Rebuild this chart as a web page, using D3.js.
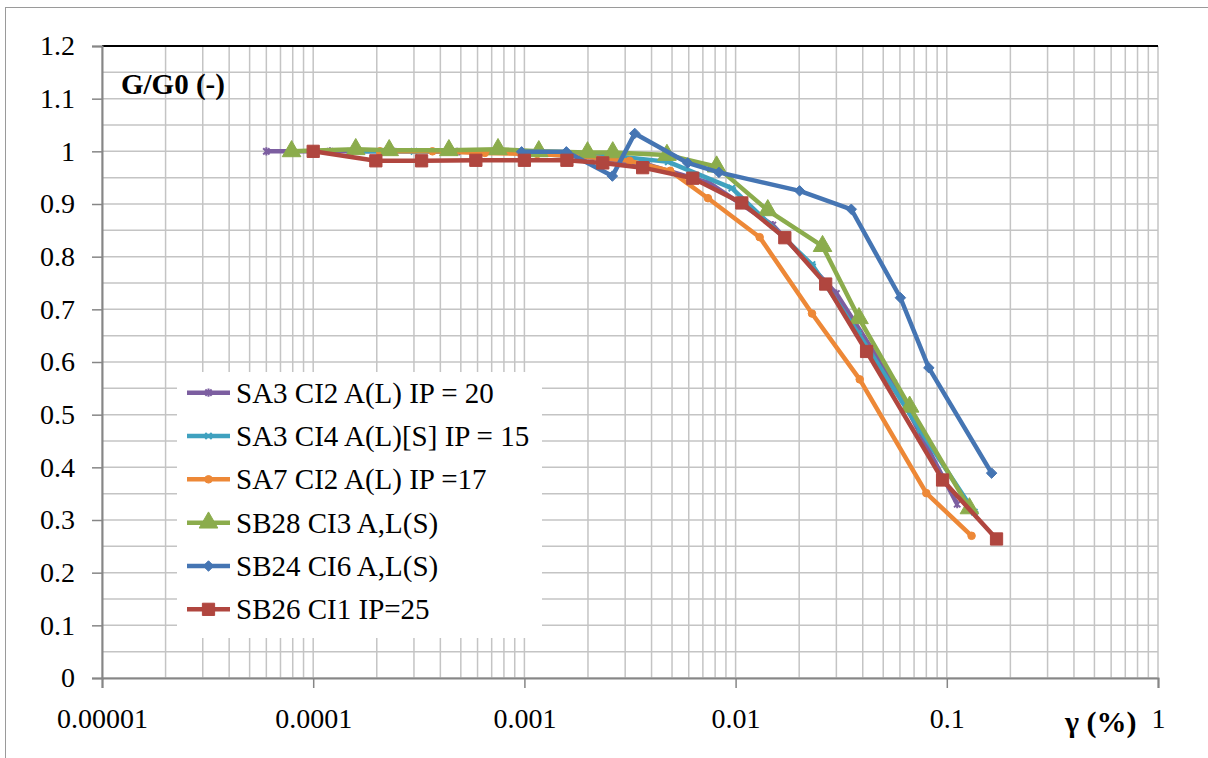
<!DOCTYPE html>
<html>
<head>
<meta charset="utf-8">
<script src="https://cdn.jsdelivr.net/npm/d3@7"></script>
<style>
  body { margin: 0; background: #fff; }
  svg text { font-family: "Liberation Serif", Tinos, "Times New Roman", "DejaVu Serif", serif; fill: #000; }
</style>
</head>
<body>
<div id="chart"></div>
<script>
// series names, in legend order
const seriesNames = [
    'SA3 CI2 A(L) IP = 20',
    'SA3 CI4 A(L)[S] IP = 15',
    'SA7 CI2 A(L) IP =17',
    'SB28 CI3 A,L(S)',
    'SB24 CI6 A,L(S)',
    'SB26 CI1 IP=25'
];

// shear strain (%) and G/G0 for each sample
const sa3ci2Strain = [0.00006, 0.00012, 0.00024, 0.00048, 0.00096, 0.0019, 0.0038, 0.0075, 0.015, 0.03, 0.056, 0.112];
const sa3ci2Ratio  = [1.0, 1.0, 1.0, 0.999, 0.997, 0.99, 0.975, 0.94, 0.86, 0.73, 0.56, 0.33];

const sa3ci4Strain = [0.00015, 0.0003, 0.0006, 0.0012, 0.0024, 0.0048, 0.0096, 0.023, 0.038, 0.075, 0.135];
const sa3ci4Ratio  = [1.0, 1.0, 0.999, 0.998, 0.993, 0.98, 0.93, 0.785, 0.655, 0.47, 0.315];

const sa7ci2Strain = [0.000207, 0.000367, 0.00065, 0.00115, 0.0019, 0.00315, 0.0049, 0.0074, 0.013, 0.023, 0.0387, 0.08, 0.131];
const sa7ci2Ratio  = [1.0, 1.0, 0.997, 0.995, 0.99, 0.982, 0.963, 0.911, 0.837, 0.692, 0.567, 0.351, 0.27];

const sb28ci3Strain = [0.000079, 0.000159, 0.000229, 0.000439, 0.00075, 0.00117, 0.00199, 0.00262, 0.00473, 0.00813, 0.0142, 0.0258, 0.0384, 0.0667, 0.128];
const sb28ci3Ratio  = [1.0, 1.004, 1.002, 1.002, 1.004, 1.0, 0.998, 0.998, 0.993, 0.971, 0.888, 0.82, 0.683, 0.515, 0.322];

const sb24ci6Strain = [0.00097, 0.00158, 0.00261, 0.00333, 0.00593, 0.00834, 0.0201, 0.0353, 0.0603, 0.0822, 0.163];
const sb24ci6Ratio  = [0.999, 0.999, 0.953, 1.034, 0.978, 0.96, 0.925, 0.89, 0.722, 0.589, 0.389];

const sb26ci1Strain = [0.0001, 0.000198, 0.000326, 0.000589, 0.001, 0.00159, 0.00235, 0.00363, 0.00627, 0.0107, 0.0171, 0.0267, 0.0417, 0.0955, 0.172];
const sb26ci1Ratio  = [1.0, 0.982, 0.982, 0.983, 0.983, 0.983, 0.978, 0.969, 0.949, 0.902, 0.836, 0.748, 0.62, 0.376, 0.264];

// axis ticks
const xTicks = [0.00001, 0.0001, 0.001, 0.01, 0.1, 1];
const xTickLabels = ['0.00001', '0.0001', '0.001', '0.01', '0.1', '1'];
const yTicks = [0, 0.1, 0.2, 0.3, 0.4, 0.5, 0.6, 0.7, 0.8, 0.9, 1, 1.1, 1.2];

const w = 1208;
const h = 758;
const plotLeft = 102, plotRight = 1158, plotTop = 46, plotBottom = 678;
const serif = '"Liberation Serif", Tinos, "Times New Roman", "DejaVu Serif", serif';

const svg = d3.select('#chart')
    .append('svg')
    .attr('width', w)
    .attr('height', h);

// chart frame
svg.append('rect')
    .attr('x', 5.5).attr('y', 7.5)
    .attr('width', w).attr('height', h)
    .attr('fill', 'none')
    .attr('stroke', '#9a9a9a');

const xScale = d3.scaleLog().domain([1e-5, 1]).range([plotLeft, plotRight]);
const yScale = d3.scaleLinear().domain([0, 1.2]).range([plotBottom, plotTop]);

// gridlines: log minors on x, every 0.05 on y
const xGrid = [];
for (let e = -5; e < 0; e++) {
    for (let m = 1; m < 10; m++) xGrid.push(m * Math.pow(10, e));
}
xGrid.push(1);
const yGrid = d3.range(0, 25).map(i => i * 0.05);

const grid = svg.append('g').attr('stroke', '#c4c4c4').attr('stroke-width', 1.5);
grid.selectAll('.vg').data(xGrid).enter().append('line')
    .attr('x1', d => xScale(d)).attr('x2', d => xScale(d))
    .attr('y1', plotTop).attr('y2', plotBottom);
grid.selectAll('.hg').data(yGrid).enter().append('line')
    .attr('x1', plotLeft).attr('x2', plotRight)
    .attr('y1', d => yScale(d)).attr('y2', d => yScale(d));

// top border of the plot area
svg.append('line')
    .attr('x1', plotLeft).attr('x2', plotRight)
    .attr('y1', plotTop).attr('y2', plotTop)
    .attr('stroke', '#000').attr('stroke-width', 2);

const yAxis = d3.axisLeft(yScale)
    .tickValues(yTicks)
    .tickSize(10)
    .tickPadding(17)
    .tickFormat(d => String(+d.toFixed(1)));

const xAxis = d3.axisBottom(xScale)
    .tickValues(xTicks)
    .tickSize(10)
    .tickPadding(20)
    .tickFormat((d, i) => xTickLabels[i]);

const gy = svg.append('g')
    .attr('transform', 'translate(' + plotLeft + ', 0)')
    .call(yAxis);
const gx = svg.append('g')
    .attr('transform', 'translate(0, ' + plotBottom + ')')
    .call(xAxis);

[gx, gy].forEach(g => {
    g.attr('font-family', serif);
    g.select('.domain').attr('stroke', '#868686').attr('stroke-width', 2);
    g.selectAll('.tick line').attr('stroke', '#868686').attr('stroke-width', 1.5);
    g.selectAll('.tick text')
        .attr('font-size', 28)
        .attr('fill', '#000');
});

// markers
const xMark = {
    draw(ctx, size) {
        const r = Math.sqrt(size) / 2;
        ctx.moveTo(-r, -r); ctx.lineTo(r, r);
        ctx.moveTo(-r, r); ctx.lineTo(r, -r);
        ctx.moveTo(-r * 1.3, 0); ctx.lineTo(r * 1.3, 0);
    }
};
const starMark = {
    draw(ctx, size) {
        const r = Math.sqrt(size) / 2;
        ctx.moveTo(-r, -r); ctx.lineTo(r, r);
        ctx.moveTo(-r, r); ctx.lineTo(r, -r);
        ctx.moveTo(0, -r * 1.3); ctx.lineTo(0, r * 1.3);
    }
};
const diamondMark = {
    draw(ctx, size) {
        const r = Math.sqrt(size) / 2;
        ctx.moveTo(0, -r); ctx.lineTo(r, 0); ctx.lineTo(0, r); ctx.lineTo(-r, 0); ctx.closePath();
    }
};

const series = [
    { name: seriesNames[0], x: sa3ci2Strain, y: sa3ci2Ratio, color: '#7c5ea0', type: starMark, size: 40, stroked: true },
    { name: seriesNames[1], x: sa3ci4Strain, y: sa3ci4Ratio, color: '#3fa1bf', type: xMark, size: 40, stroked: true },
    { name: seriesNames[2], x: sa7ci2Strain, y: sa7ci2Ratio, color: '#ed8837', type: d3.symbolCircle, size: 45, stroked: false },
    { name: seriesNames[3], x: sb28ci3Strain, y: sb28ci3Ratio, color: '#8bac4c', type: d3.symbolTriangle, size: 150, stroked: false },
    { name: seriesNames[4], x: sb24ci6Strain, y: sb24ci6Ratio, color: '#4575b3', type: diamondMark, size: 110, stroked: false },
    { name: seriesNames[5], x: sb26ci1Strain, y: sb26ci1Ratio, color: '#b0463f', type: d3.symbolSquare, size: 150, stroked: false }
];

const line = d3.line()
    .x(d => xScale(d[0]))
    .y(d => yScale(d[1]));

series.forEach(s => {
    const pts = s.x.map((v, i) => [v, s.y[i]]);
    const g = svg.append('g');
    g.append('path')
        .datum(pts)
        .attr('d', line)
        .attr('fill', 'none')
        .attr('stroke', s.color)
        .attr('stroke-width', 4.5)
        .attr('stroke-linejoin', 'round');
    g.selectAll('.pt').data(pts).enter().append('path')
        .attr('transform', d => 'translate(' + xScale(d[0]) + ',' + yScale(d[1]) + ')')
        .attr('d', d3.symbol().type(s.type).size(s.size))
        .attr('fill', s.stroked ? 'none' : s.color)
        .attr('stroke', s.color)
        .attr('stroke-width', s.stroked ? 2 : 1);
});

// legend
const legend = svg.append('g');
legend.append('rect')
    .attr('x', 177).attr('y', 372)
    .attr('width', 365).attr('height', 266)
    .attr('fill', '#fff');

const legendRow = d3.scaleBand()
    .domain(seriesNames)
    .range([371, 631]);

series.forEach(s => {
    const cy = legendRow(s.name) + legendRow.bandwidth() / 2;
    legend.append('line')
        .attr('x1', 187).attr('x2', 230)
        .attr('y1', cy).attr('y2', cy)
        .attr('stroke', s.color).attr('stroke-width', 4.5);
    legend.append('path')
        .attr('transform', 'translate(208.5,' + cy + ')')
        .attr('d', d3.symbol().type(s.type).size(s.size))
        .attr('fill', s.stroked ? 'none' : s.color)
        .attr('stroke', s.color)
        .attr('stroke-width', s.stroked ? 2 : 1);
    legend.append('text')
        .attr('x', 236).attr('y', cy)
        .attr('dy', '0.35em')
        .attr('font-size', 29)
        .attr('font-family', serif)
        .text(s.name);
});

// axis titles
svg.append('text')
    .attr('x', 121).attr('y', 94)
    .attr('font-size', 29)
    .attr('font-weight', 'bold')
    .attr('font-family', serif)
    .text('G/G0 (-)');

svg.append('text')
    .attr('x', 1065).attr('y', 732)
    .attr('font-size', 30)
    .attr('font-weight', 'bold')
    .attr('font-family', serif)
    .text('γ (%)');
</script>
</body>
</html>
